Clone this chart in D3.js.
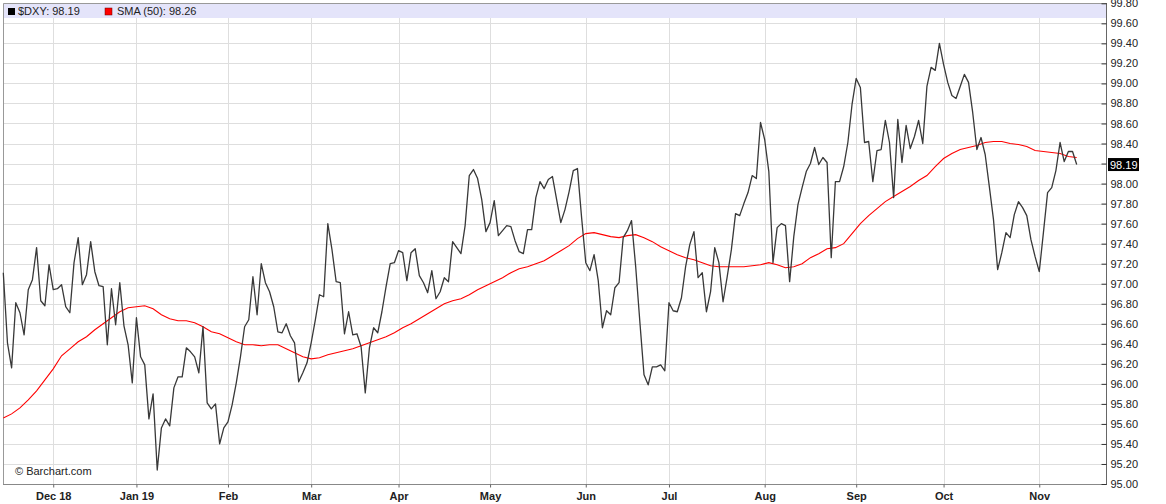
<!DOCTYPE html>
<html>
<head>
<meta charset="utf-8">
<script src="https://cdn.jsdelivr.net/npm/d3@7"></script>
<style>
body{margin:0;background:#fff}
svg{display:block;font-family:"Liberation Sans",Arial,sans-serif}
</style>
</head>
<body>
<svg id="chart" width="1166" height="504"></svg>
<script>
// daily closes of $DXY (one per session)
const closes = [97.11,96.41,96.16,96.81,96.71,96.49,96.94,97.04,97.36,96.83,
96.78,97.19,96.94,96.95,96.99,96.77,96.71,97.21,97.46,96.99,
97.09,97.42,97.12,96.98,96.97,96.39,96.95,96.59,97.01,96.58,
96.39,96.01,96.66,96.27,96.19,95.65,95.90,95.14,95.56,95.65,
95.58,95.96,96.07,96.07,96.36,96.32,96.27,96.11,96.57,95.81,
95.75,95.80,95.40,95.56,95.62,95.79,96.01,96.27,96.57,96.64,
97.07,96.69,97.20,97.01,96.92,96.77,96.52,96.51,96.60,96.48,
96.41,96.02,96.11,96.21,96.41,96.64,96.89,96.87,97.60,97.34,
97.02,97.01,96.50,96.72,96.49,96.50,96.37,95.91,96.36,96.56,
96.51,96.72,96.97,97.20,97.21,97.33,97.31,97.03,97.31,97.35,
97.08,97.01,96.91,97.13,96.85,96.92,97.06,97.02,97.42,97.36,
97.30,97.58,98.08,98.14,98.05,97.84,97.52,97.61,97.83,97.48,
97.53,97.58,97.57,97.43,97.32,97.30,97.54,97.54,97.86,98.02,
97.95,98.04,98.07,97.84,97.61,97.74,97.92,98.13,98.15,97.66,
97.21,97.13,97.29,97.03,96.56,96.73,96.69,96.96,97.01,97.46,
97.53,97.63,97.17,96.62,96.09,95.99,96.17,96.17,96.19,96.13,
96.81,96.73,96.72,96.86,97.17,97.39,97.52,97.06,97.11,96.72,
96.92,97.36,97.21,96.82,97.07,97.34,97.70,97.68,97.80,97.91,
98.08,98.05,98.61,98.44,98.12,97.21,97.56,97.60,97.58,97.02,
97.47,97.79,97.96,98.12,98.20,98.36,98.19,98.26,98.21,97.26,
98.02,98.02,98.17,98.41,98.79,99.05,98.96,98.41,98.42,98.02,
98.33,98.34,98.63,98.41,97.86,98.64,98.21,98.58,98.35,98.47,
98.63,98.40,98.97,99.16,99.13,99.40,99.19,99.01,98.88,98.85,
98.97,99.09,99.01,98.71,98.34,98.46,98.29,97.97,97.64,97.14,
97.31,97.51,97.46,97.69,97.82,97.76,97.68,97.44,97.27,97.12,
97.51,97.91,97.96,98.13,98.41,98.22,98.32,98.32,98.19]

// SMA(50), read every second session
const sma50 = [95.66,95.70,95.76,95.84,95.93,96.04,96.15,96.28,96.35,96.42,
96.47,96.54,96.60,96.66,96.72,96.76,96.77,96.78,96.75,96.69,
96.65,96.63,96.63,96.61,96.57,96.52,96.50,96.46,96.42,96.39,
96.39,96.38,96.39,96.39,96.35,96.31,96.27,96.25,96.26,96.29,
96.31,96.33,96.35,96.38,96.41,96.44,96.47,96.51,96.56,96.60,
96.65,96.70,96.75,96.80,96.83,96.85,96.89,96.94,96.98,97.02,
97.06,97.11,97.15,97.17,97.20,97.23,97.28,97.33,97.38,97.45,
97.50,97.51,97.49,97.47,97.46,97.48,97.49,97.46,97.42,97.37,
97.33,97.29,97.26,97.24,97.21,97.18,97.17,97.17,97.17,97.17,
97.18,97.19,97.21,97.19,97.16,97.17,97.20,97.26,97.30,97.35,
97.36,97.40,97.50,97.60,97.68,97.75,97.82,97.87,97.92,97.97,
98.03,98.08,98.17,98.25,98.30,98.34,98.36,98.38,98.41,98.42,
98.42,98.40,98.39,98.37,98.33,98.32,98.31,98.30,98.27,98.26]

const firstSession = "2018-11-15", lastSession = "2019-11-14"
const closedDays = ["2018-12-25","2019-01-01"]
const monthLabels = ["Dec 18","Jan 19","Feb","Mar","Apr","May","Jun","Jul","Aug","Sep","Oct","Nov"]
const priceTicks = d3.range(0,25).map(i => +(95 + i*0.2).toFixed(2))
const symbol = "$DXY", lastClose = 98.19
const smaName = "SMA (50)", lastSma = 98.26

// trading sessions (weekdays)
const fmt = d3.utcFormat("%Y-%m-%d")
const sessions = d3.utcDays(new Date(firstSession), d3.utcDay.offset(new Date(lastSession),1))
  .filter(d => d.getUTCDay()>0 && d.getUTCDay()<6 && !closedDays.includes(fmt(d)))
  .map(fmt)
const monthStarts = sessions.filter((s,i) => i>0 && s.slice(5,7)!==sessions[i-1].slice(5,7))

const L = 3, R = 1106, T = 3, B = 484
const svg = d3.select("#chart")
const x = d3.scalePoint().domain(sessions).range([3.3, 1076.7])
const y = d3.scaleLinear().domain([95, 99.8]).range([B, 3.3])

// grid
svg.append("g").selectAll("line").data(priceTicks).join("line")
  .attr("x1",L).attr("x2",R).attr("y1",d=>Math.round(y(d))+0.5).attr("y2",d=>Math.round(y(d))+0.5)
  .attr("stroke","#dedede")
svg.append("g").selectAll("line").data(monthStarts).join("line")
  .attr("x1",d=>Math.round(x(d))+0.5).attr("x2",d=>Math.round(x(d))+0.5).attr("y1",T).attr("y2",B)
  .attr("stroke","#dedede")

// legend band
svg.append("rect").attr("x",L).attr("y",T).attr("width",R-L).attr("height",15).attr("fill","#e4e4fa")

// frame
svg.append("path").attr("d",`M${L+0.5},${B}V${T+0.5}H${R}`).attr("fill","none").attr("stroke","#999")
svg.append("line").attr("x1",L).attr("x2",R).attr("y1",B+0.5).attr("y2",B+0.5).attr("stroke","#888")

// SMA line
svg.append("path").datum(sma50)
  .attr("fill","none").attr("stroke","#ff0000").attr("stroke-width",1.1)
  .attr("d", d3.line().x((d,k)=>x(sessions[k*2])).y(d=>y(d)))

// price line
svg.append("path").datum(closes)
  .attr("fill","none").attr("stroke","#383838").attr("stroke-width",1.3).attr("stroke-linejoin","round")
  .attr("d", d3.line().x((d,i)=>x(sessions[i])).y(d=>y(d)))

// right price axis
const yAxis = svg.append("g").attr("transform",`translate(${R+0.5},0)`)
  .call(d3.axisRight(y).tickValues(priceTicks).tickFormat(d3.format(".2f")).tickSizeInner(-5).tickSizeOuter(0).tickPadding(4))
yAxis.select(".domain").attr("stroke","#666").attr("d",`M0,${T}V${B+1}`)
yAxis.selectAll(".tick line").attr("stroke","#333")
yAxis.selectAll("text").attr("font-size",11).attr("fill","#222").attr("font-family","Liberation Sans, Arial, sans-serif")

// bottom month axis
const xAxis = svg.append("g").attr("transform",`translate(0,${B+0.5})`)
  .call(d3.axisBottom(x).tickValues(monthStarts).tickFormat((d,i)=>monthLabels[i]).tickSize(3).tickPadding(5))
xAxis.select(".domain").remove()
xAxis.selectAll(".tick line").attr("stroke","#666")
xAxis.selectAll("text").attr("font-size",11).attr("font-weight","bold").attr("fill","#222")
  .attr("font-family","Liberation Sans, Arial, sans-serif")

// last price marker
const lp = svg.append("g").attr("transform",`translate(1108,${y(lastClose)})`)
lp.append("rect").attr("x",0).attr("y",-6.5).attr("width",31).attr("height",13).attr("fill","#000")
lp.append("text").attr("x",2).attr("y",4).attr("font-size",11).attr("fill","#fff").text(d3.format(".2f")(lastClose))

// legend
const lg = svg.append("g").attr("font-size",11).attr("fill","#222")
lg.append("rect").attr("x",8).attr("y",8).attr("width",7).attr("height",7).attr("fill","#000")
lg.append("text").attr("x",18).attr("y",15).text(`${symbol}: ${lastClose.toFixed(2)}`)
lg.append("rect").attr("x",105).attr("y",8).attr("width",7).attr("height",7).attr("fill","#ff0000").attr("stroke","#600").attr("stroke-width",0.5)
lg.append("text").attr("x",117).attr("y",15).text(`${smaName}: ${lastSma.toFixed(2)}`)

svg.append("text").attr("x",15).attr("y",475).attr("font-size",11).attr("fill","#222").text("\u00a9 Barchart.com")
</script>
</body>
</html>
